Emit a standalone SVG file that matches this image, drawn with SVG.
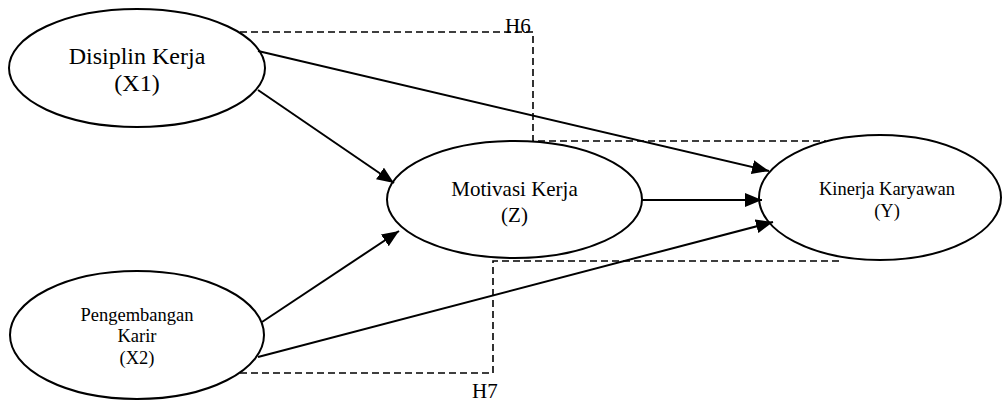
<svg xmlns="http://www.w3.org/2000/svg" width="1003" height="401" viewBox="0 0 1003 401">
<defs>
<style>
.node{fill:#fff;stroke:#000;stroke-width:2}
.t{font-family:"Liberation Serif","Times New Roman",serif;fill:#000;text-anchor:middle}
.arr{stroke:#000;stroke-width:2;fill:none;marker-end:url(#ah)}
.dash{stroke:#000;stroke-width:1.6;fill:none;stroke-dasharray:7,4}
.lbl{font-family:"Liberation Serif","Times New Roman",serif;font-size:21px;fill:#000}
</style>
<marker id="ah" markerUnits="userSpaceOnUse" markerWidth="18" markerHeight="14" refX="17" refY="7" orient="auto">
<path d="M0,0 L17,7 L0,14 z" fill="#000"/>
</marker>
</defs>
<rect width="1003" height="401" fill="#fff"/>
<g id="hypotheses">
<path class="dash" d="M240,32 H533 V141 H826"/>
<path class="dash" d="M240,373 H493 V261 H841"/>
<text class="lbl" x="505" y="33">H6</text>
<text class="lbl" x="472" y="398">H7</text>
</g>
<g id="node-x1">
<ellipse class="node" cx="137" cy="68" rx="128" ry="59"/>
<text class="t" font-size="24" x="137" y="64">Disiplin Kerja</text>
<text class="t" font-size="24" x="137" y="91">(X1)</text>
</g>
<g id="node-z">
<ellipse class="node" cx="514.5" cy="199.5" rx="127.5" ry="58.5"/>
<text class="t" font-size="21" x="514.5" y="196">Motivasi Kerja</text>
<text class="t" font-size="21" x="514.5" y="222">(Z)</text>
</g>
<g id="node-y">
<ellipse class="node" cx="880" cy="197.5" rx="121" ry="62.5"/>
<text class="t" font-size="18.5" x="887" y="195">Kinerja Karyawan</text>
<text class="t" font-size="18.5" x="887" y="217">(Y)</text>
</g>
<g id="node-x2">
<ellipse class="node" cx="137" cy="335" rx="127" ry="64"/>
<text class="t" font-size="18.5" x="137" y="321">Pengembangan</text>
<text class="t" font-size="18.5" x="137" y="342">Karir</text>
<text class="t" font-size="18.5" x="137" y="364">(X2)</text>
</g>
<g id="connectors">
<line class="arr" x1="258" y1="51" x2="769" y2="171"/>
<line class="arr" x1="258" y1="90" x2="394" y2="183"/>
<line class="arr" x1="642" y1="200" x2="762" y2="200"/>
<line class="arr" x1="262" y1="322" x2="399" y2="231"/>
<line class="arr" x1="258" y1="357" x2="773" y2="222"/>
</g>
</svg>
